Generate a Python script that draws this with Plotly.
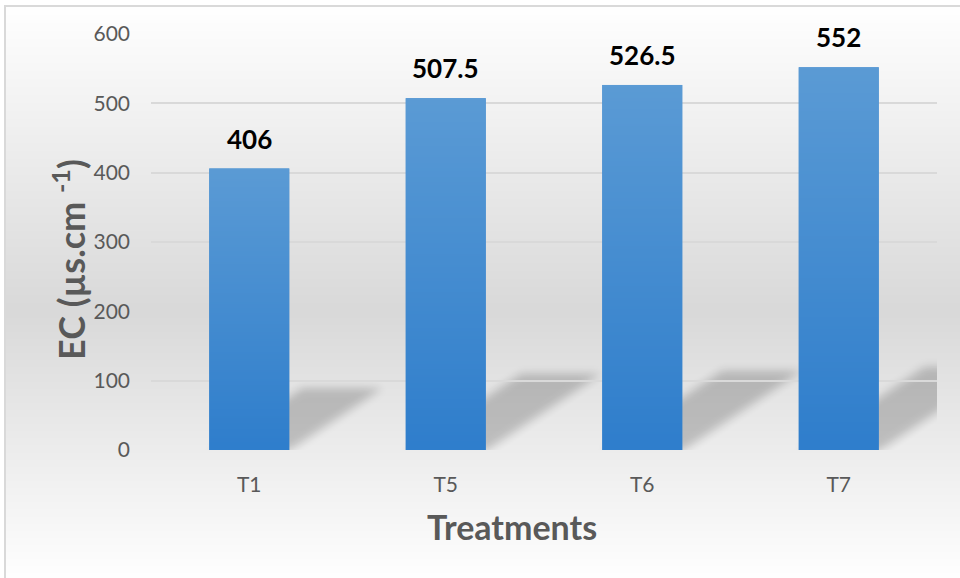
import base64
import struct
import zlib

import numpy as np
import plotly.graph_objects as go

# ---- data ----
treatments = ["T1", "T5", "T6", "T7"]
ec_values = [406, 507.5, 526.5, 552]
y_ticks = [0, 100, 200, 300, 400, 500, 600]

# ---- layout geometry (pixels) ----
W, H = 960, 578
ML, MR, MT, MB = 151, 23, 34, 128
PW, PH = W - ML - MR, H - MT - MB
Y_MAX = 600
BAR_W = 0.407
CAT_PX = PW / len(treatments)      # pixels per category
UNIT_PX = PH / Y_MAX               # pixels per EC unit

FONT = "Lato"
GREY_TXT = "#595959"


def png_uri(arr):
    """Encode an HxWx4 uint8 array as a PNG data URI."""
    h, w, _ = arr.shape
    raw = b"".join(b"\x00" + arr[r].tobytes() for r in range(h))

    def chunk(tag, data):
        c = struct.pack(">I", len(data)) + tag + data
        return c + struct.pack(">I", zlib.crc32(tag + data) & 0xFFFFFFFF)

    png = (b"\x89PNG\r\n\x1a\n"
           + chunk(b"IHDR", struct.pack(">IIBBBBB", w, h, 8, 6, 0, 0, 0))
           + chunk(b"IDAT", zlib.compress(raw, 9))
           + chunk(b"IEND", b""))
    return "data:image/png;base64," + base64.b64encode(png).decode()


def px_to_paper_x(px):
    return (px - ML) / PW


def px_to_paper_y(py):
    return (H - MB - py) / PH


# chart-area background: white -> light grey -> white
bg_top, bg_bot, bg_mid = 6, 580, 310
rows = np.arange(bg_top, bg_bot)
shade = np.where(rows <= bg_mid,
                 255 - 38 * (rows - bg_top) / (bg_mid - bg_top),
                 217 + 38 * (rows - bg_mid) / (bg_bot - bg_mid))
bg = np.zeros((len(rows), 2, 4), dtype=np.uint8)
bg[..., 0] = bg[..., 1] = bg[..., 2] = np.clip(shade, 0, 255)[:, None]
bg[..., 3] = 255

# vertical gradient used to shade each bar
n = 128
t = np.linspace(0, 1, n)[:, None]
top_c = np.array([91, 155, 213])
bot_c = np.array([47, 126, 204])
bar_grad = np.zeros((n, 2, 4), dtype=np.uint8)
bar_grad[..., :3] = (top_c * (1 - t) + bot_c * t)[:, None, :].astype(np.uint8)
bar_grad[..., 3] = 255


def gauss_blur(a, sigma):
    r = int(3 * sigma)
    k = np.exp(-0.5 * (np.arange(-r, r + 1) / sigma) ** 2)
    k /= k.sum()
    a = np.apply_along_axis(lambda m: np.convolve(m, k, mode="same"), 0, a)
    a = np.apply_along_axis(lambda m: np.convolve(m, k, mode="same"), 1, a)
    return a


def shadow_image(value):
    """Soft perspective shadow cast to the right of a bar."""
    h = value * UNIT_PX
    dx, dy = 0.33 * h, 0.22 * h
    bw = BAR_W * CAT_PX
    pad = 16
    iw = int(np.ceil(bw + dx + 2 * pad))
    ih = int(np.ceil(dy + 2 * pad))
    xs = np.arange(iw)[None, :] + 0.5
    ys = (ih - np.arange(ih)[:, None] - 0.5) - pad      # height above baseline
    shift = ys * dx / dy
    inside = (ys >= 0) & (ys <= dy) & (xs >= pad + shift) & (xs <= pad + bw + shift)
    alpha = gauss_blur(inside.astype(float), 4.5)
    img = np.zeros((ih, iw, 4), dtype=np.uint8)
    img[..., 3] = np.clip(alpha * 0.2 * 255, 0, 255).astype(np.uint8)
    return img, pad, iw, ih, dy


images = [dict(source=png_uri(bg), xref="paper", yref="paper",
               x=px_to_paper_x(5), y=px_to_paper_y(bg_top),
               sizex=(W + 2 - 5) / PW, sizey=(bg_bot - bg_top) / PH,
               xanchor="left", yanchor="top", sizing="stretch", layer="below")]

for i, v in enumerate(ec_values):
    img, pad, iw, ih, dy = shadow_image(v)
    images.append(dict(source=png_uri(img), xref="x", yref="y",
                       x=i - BAR_W / 2 - pad / CAT_PX, y=(dy + pad) / UNIT_PX,
                       sizex=iw / CAT_PX, sizey=ih / UNIT_PX,
                       xanchor="left", yanchor="top", sizing="stretch", layer="below"))
    images.append(dict(source=png_uri(bar_grad), xref="x", yref="y",
                       x=i - BAR_W / 2, y=v, sizex=BAR_W, sizey=v,
                       xanchor="left", yanchor="top", sizing="stretch", layer="above"))

fig = go.Figure(go.Bar(
    x=list(range(len(treatments))), y=ec_values, width=BAR_W,
    marker=dict(color="#4a8fd2", line=dict(width=0)),
    hoverinfo="x+y",
))

annotations = [dict(x=i, y=v, xref="x", yref="y", text=f"{v:g}", showarrow=False,
                    yanchor="bottom", yshift=12,
                    font=dict(family=FONT, size=26, color="#000000", weight="bold"))
               for i, v in enumerate(ec_values)]
annotations.append(dict(x=px_to_paper_x(512), y=px_to_paper_y(526), xref="paper", yref="paper",
                        text="Treatments", showarrow=False, xanchor="center", yanchor="middle",
                        font=dict(family=FONT, size=34, color=GREY_TXT, weight="bold")))
annotations.append(dict(x=px_to_paper_x(69), y=px_to_paper_y(260), xref="paper", yref="paper",
                        text="EC (µs.cm <sup>-1</sup>)", textangle=-90, showarrow=False,
                        xanchor="center", yanchor="middle",
                        font=dict(family=FONT, size=36, color=GREY_TXT, weight="bold")))

fig.update_layout(
    width=W, height=H,
    margin=dict(l=ML, r=MR, t=MT, b=MB, pad=0),
    paper_bgcolor="#ffffff", plot_bgcolor="rgba(0,0,0,0)",
    showlegend=False, images=images, annotations=annotations,
    shapes=[dict(type="rect", xref="paper", yref="paper",
                 x0=px_to_paper_x(5), x1=px_to_paper_x(W + 5),
                 y0=px_to_paper_y(H + 5), y1=px_to_paper_y(6),
                 line=dict(color="#d9d9d9", width=2), fillcolor="rgba(0,0,0,0)",
                 layer="above")],
    xaxis=dict(range=[-0.5, len(treatments) - 0.5], tickmode="array",
               tickvals=list(range(len(treatments))), ticktext=treatments,
               showgrid=False, zeroline=False, showline=False, ticks="",
               ticklabelstandoff=20,
               tickfont=dict(family=FONT, size=21, color=GREY_TXT)),
    yaxis=dict(range=[0, Y_MAX], tickmode="array", tickvals=y_ticks,
               showgrid=True, gridcolor="#d9d9d9", gridwidth=2,
               zeroline=False, showline=False, ticks="",
               ticklabelstandoff=20,
               tickfont=dict(family=FONT, size=21, color=GREY_TXT)),
)

fig.write_html("out.html")
